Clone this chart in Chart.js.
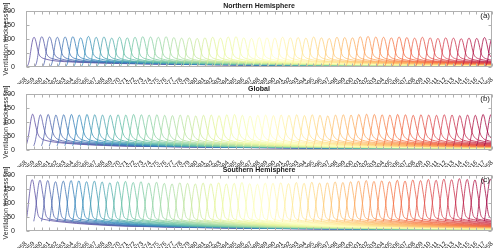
<!DOCTYPE html>
<html><head><meta charset="utf-8">
<script src="https://cdn.jsdelivr.net/npm/chart.js@4.4.1/dist/chart.umd.min.js"></script>
<style>
html,body{margin:0;padding:0;background:#fff;width:500px;height:251px;overflow:hidden}
canvas{position:absolute;left:0}
</style></head><body>
<canvas id="c0" width="500" height="84" style="top:0px"></canvas>
<canvas id="c1" width="500" height="84" style="top:83px"></canvas>
<canvas id="c2" width="500" height="84" style="top:164px"></canvas>
<script>
// ---------- data ----------
const startYears = [1958,1959,1960,1961,1962,1963,1964,1965,1966,1967,1968,1969,1970,1971,1972,1973,1974,1975,1976,1977,1978,1979,1980,1981,1982,1983,1984,1985,1986,1987,1988,1989,1990,1991,1992,1993,1994,1995,1996,1997,1998,1999,2000,2001,2002,2003,2004,2005,2006,2007,2008,2009,2010,2011,2012,2013,2014,2015,2016,2017];
const tickYears = [1958,1959,1960,1961,1962,1963,1964,1965,1966,1967,1968,1969,1970,1971,1972,1973,1974,1975,1976,1977,1978,1979,1980,1981,1982,1983,1984,1985,1986,1987,1988,1989,1990,1991,1992,1993,1994,1995,1996,1997,1998,1999,2000,2001,2002,2003,2004,2005,2006,2007,2008,2009,2010,2011,2012,2013,2014,2015,2016,2017,2018];
const tickLabels = ['1958','1959','1960','1961','1962','1963','1964','1965','1966','1967','1968','1969','1970','1971','1972','1973','1974','1975','1976','1977','1978','1979','1980','1981','1982','1983','1984','1985','1986','1987','1988','1989','1990','1991','1992','1993','1994','1995','1996','1997','1998','1999','2000','2001','2002','2003','2004','2005','2006','2007','2008','2009','2010','2011','2012','2013','2014','2015','2016','2017','1958'];
const yTicks = [0,50,100,150,200];

// time since start of each cohort [years] and thickness of the first cohort [m]
const nhOffsets = [0,0.15,0.3,0.45,0.6,0.75,0.9,1.05,1.2,1.35,1.5,1.65,1.8,2.0,2.3,2.7,3.2,4,5,6.5,8.5,11,15,20,27,35,45,60];
const nhProfile = [0,3,10,27,55,82,101,106,99,82,62,47,39,34,30,27,24,21,19,17,15,13,11,9,7,6,5,4];
const glOffsets = [0,0.15,0.3,0.45,0.6,0.72,0.85,1.0,1.15,1.3,1.45,1.6,1.8,2.0,2.3,2.7,3.2,4,5,6.5,8.5,11,15,20,27,35,45,60];
const glProfile = [15,28,48,74,102,119,128,119,99,80,64,53,45,40,36,33,30,27,24,21,18,15,13,11,9,7,6,5];
const shOffsets = [0,0.15,0.3,0.45,0.6,0.72,0.82,0.95,1.1,1.25,1.4,1.55,1.7,1.9,2.2,2.6,3.2,4,5,6.5,8.5,11,15,20,27,35,45,60];
const shProfile = [35,58,95,133,165,180,183,172,145,118,82,58,49,45,42,40,37,34,31,27,23,19,16,13,10,8,7,6];

// peak thickness of each cohort [m]
const nhPeaks = [106,108,107,106,107,108,104,109,106,107,103,106,104,106,108,107,106,108,105,103,104,102,104,106,103,107,108,104,102,105,104,103,106,104,105,103,107,104,102,106,105,104,108,109,107,106,104,107,105,103,106,104,102,104,103,101,103,102,105,104];
const glPeaks = [128,126,127,125,126,127,125,127,126,125,124,126,125,127,126,125,126,124,123,125,124,122,124,125,123,126,127,124,122,124,125,123,125,124,126,123,126,124,122,125,126,125,127,128,127,126,125,127,126,124,126,125,124,126,125,123,125,124,127,126];
const shPeaks = [183,181,180,176,178,180,179,176,178,175,172,176,177,173,176,171,174,170,168,172,170,168,171,169,172,168,170,173,169,167,171,170,172,169,173,170,174,171,172,175,173,176,178,180,177,179,176,181,178,182,180,184,181,185,183,187,184,182,186,185];

const panels = [
  {id:'c0', title:'Northern Hemisphere', letter:'(a)', offsets:nhOffsets, profile:nhProfile, peaks:nhPeaks},
  {id:'c1', title:'Global', letter:'(b)', offsets:glOffsets, profile:glProfile, peaks:glPeaks},
  {id:'c2', title:'Southern Hemisphere', letter:'(c)', offsets:shOffsets, profile:shProfile, peaks:shPeaks}
];

// ---------- style ----------
const FONT = '"Liberation Sans", Arial, Helvetica, sans-serif';
const cmap = ['#5e4fa2','#3288bd','#66c2a5','#abdda4','#e6f598','#ffffbf','#fee08b','#fdae61','#f46d43','#d53e4f','#9e0142'];
function hex(h){return [parseInt(h.slice(1,3),16),parseInt(h.slice(3,5),16),parseInt(h.slice(5,7),16)];}
function colorAt(f){
  const p = f*(cmap.length-1), i = Math.min(Math.floor(p), cmap.length-2), t = p-i;
  const a = hex(cmap[i]), b = hex(cmap[i+1]);
  return 'rgb('+a.map((v,k)=>Math.round(v+(b[k]-v)*t)).join(',')+')';
}

const framePlugin = {
  id:'frame',
  afterDatasetsDraw(chart, args, opts){
    const {ctx, chartArea:a, scales:{x, y}} = chart;
    ctx.save();
    ctx.strokeStyle = '#b0b0b0'; ctx.lineWidth = 1;
    const L = Math.round(a.left)+0.5, R = Math.round(a.right)-0.5, T = Math.round(a.top)+0.5, B = Math.round(a.bottom)-0.5;
    ctx.strokeRect(L, T, R-L, B-T);
    ctx.beginPath();
    for (const v of tickYears){
      const px = Math.round(x.getPixelForValue(v))+0.5;
      ctx.moveTo(px, T); ctx.lineTo(px, T+3);
      ctx.moveTo(px, B); ctx.lineTo(px, B-3);
    }
    for (const v of yTicks){
      const py = Math.round(y.getPixelForValue(v))+0.5;
      ctx.moveTo(L, py); ctx.lineTo(L+3, py);
      ctx.moveTo(R, py); ctx.lineTo(R-3, py);
    }
    ctx.stroke();
    ctx.fillStyle = '#1a1a1a';
    ctx.textAlign = 'center'; ctx.textBaseline = 'middle';
    ctx.font = 'bold 7px '+FONT;
    ctx.fillText(opts.title, (a.left+a.right)/2, a.top-5);
    ctx.textAlign = 'right';
    ctx.font = '8px '+FONT;
    ctx.fillText(opts.letter, a.right-2, a.top+5);
    ctx.translate(6.5, (a.top+a.bottom)/2);
    ctx.rotate(-Math.PI/2);
    ctx.textAlign = 'center';
    ctx.font = '6.8px '+FONT;
    ctx.fillStyle = '#262626';
    ctx.fillText('Ventilation thickness [m]', 0, 0);
    ctx.restore();
  }
};

panels.forEach(p => {
  const pmax = Math.max(...p.profile);
  const n = startYears.length;
  const datasets = startYears.map((yr, i) => ({
    data: p.offsets.map((o, k) => ({x: yr + o, y: p.profile[k] * p.peaks[i] / pmax})),
    borderColor: colorAt(i/(n-1)),
    borderWidth: 0.8,
    pointRadius: 0,
    fill: false,
    cubicInterpolationMode: 'monotone',
    order: n - i
  }));
  new Chart(document.getElementById(p.id), {
    type: 'line',
    data: {datasets},
    plugins: [framePlugin],
    options: {
      responsive: false,
      animation: false,
      events: [],
      layout: {padding: {top: 11, right: 8, left: 0, bottom: 0}},
      plugins: {legend: {display: false}, tooltip: {enabled: false}, title: {display: false},
                frame: {title: p.title, letter: p.letter}},
      scales: {
        x: {
          type: 'linear', min: 1958, max: 2018,
          afterBuildTicks: s => { s.ticks = tickYears.map(v => ({value: v})); },
          afterFit: s => { s.height = 17; },
          grid: {display: false}, border: {display: false},
          ticks: {autoSkip: false, maxRotation: 45, minRotation: 45, padding: 1,
                  color: '#262626', font: {size: 6.4, family: FONT},
                  callback: (v, i) => tickLabels[i]}
        },
        y: {
          min: 0, max: 200,
          afterBuildTicks: s => { s.ticks = yTicks.map(v => ({value: v})); },
          afterFit: s => { s.width = 26; },
          grid: {display: false}, border: {display: false},
          ticks: {padding: 3, color: '#222', font: {size: 7, family: FONT},
                  callback: v => String(v)}
        }
      }
    }
  });
});
</script>
</body></html>
